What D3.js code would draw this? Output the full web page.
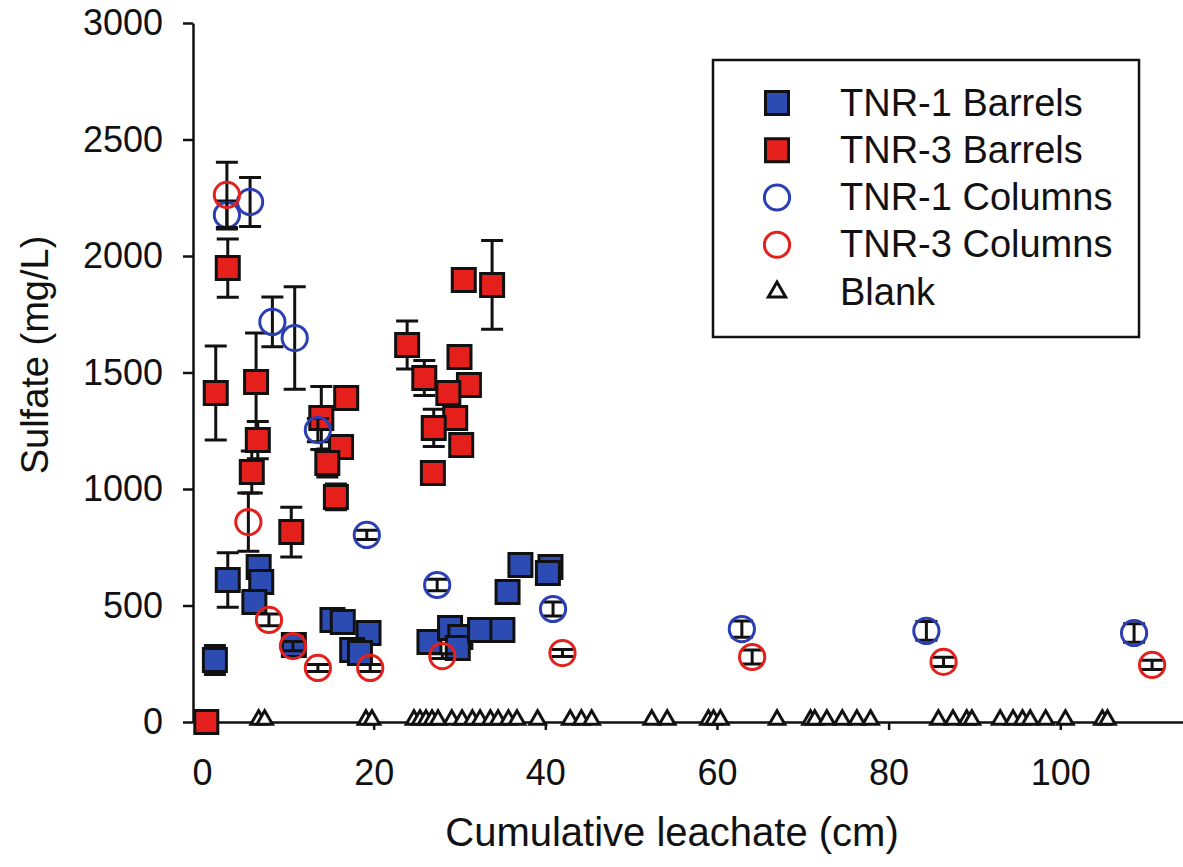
<!DOCTYPE html>
<html>
<head>
<meta charset="utf-8">
<script src="https://cdn.jsdelivr.net/npm/d3@7/dist/d3.min.js"></script>
<style>
  html, body { margin: 0; padding: 0; background: #fff; }
  svg { display: block; }
  text { font-family: "Liberation Sans", Arial, sans-serif; fill: #111; }
</style>
</head>
<body>
<svg id="chart" width="1183" height="867"></svg>
<script>
// ---------- DATA ----------
const seriesNames = ["TNR-1 Barrels", "TNR-3 Barrels", "TNR-1 Columns", "TNR-3 Columns", "Blank"];

const tnr1BarrelsX   = [1.5, 3.0, 6.6, 6.9, 6.1, 10.7, 15.2, 16.4, 19.4, 17.5, 18.4, 26.5, 28.9, 30.1, 29.8, 32.4, 35.0, 35.6, 37.1, 40.6, 40.3];
const tnr1BarrelsY   = [266, 609, 665, 601, 515, 330, 438, 429, 382, 309, 296, 343, 403, 365, 318, 395, 395, 558, 674, 665, 639];
const tnr1BarrelsErr = [62, 117, 0, 0, 0, 30, 0, 0, 0, 0, 0, 0, 0, 0, 0, 0, 0, 0, 0, 0, 0];

const tnr3BarrelsX   = [0.5, 1.6, 3.0, 6.3, 6.5, 5.8, 10.4, 13.9, 16.8, 16.2, 14.6, 15.6, 23.9, 25.9, 30.0, 31.1, 28.7, 29.5, 27.0, 30.2, 26.9, 30.5, 33.8];
const tnr3BarrelsY   = [0, 1412, 1948, 1459, 1210, 1073, 815, 1305, 1391, 1180, 1112, 966, 1618, 1476, 1567, 1446, 1412, 1305, 1262, 1189, 1069, 1897, 1876];
const tnr3BarrelsErr = [0, 202, 125, 210, 80, 90, 107, 135, 0, 0, 60, 55, 103, 75, 0, 0, 0, 0, 80, 0, 0, 40, 190];

const tnr1ColumnsX   = [2.9, 5.6, 8.2, 10.8, 13.5, 19.2, 27.4, 40.9, 62.9, 84.4, 108.6];
const tnr1ColumnsY   = [2176, 2232, 1717, 1648, 1253, 803, 588, 485, 399, 391, 382];
const tnr1ColumnsErr = [60, 105, 107, 220, 50, 20, 25, 30, 35, 40, 40];

const tnr3ColumnsX   = [2.9, 5.4, 7.8, 10.6, 13.5, 19.6, 28.0, 42.0, 64.1, 86.4, 110.7];
const tnr3ColumnsY   = [2262, 858, 438, 326, 232, 232, 283, 296, 279, 258, 245];
const tnr3ColumnsErr = [140, 125, 25, 20, 15, 15, 10, 15, 30, 20, 20];

const blankX = [6.6, 7.3, 19.1, 19.8, 24.7, 25.4, 26.1, 26.8, 27.5, 29.1, 30.3, 31.5, 32.4, 33.6, 34.5, 35.7, 36.7, 39.1,
                42.9, 44.2, 45.4, 52.4, 54.2, 59.0, 59.6, 60.4, 67.0, 70.9, 71.4, 72.8, 74.6, 76.3, 77.9,
                85.8, 87.5, 89.1, 89.7, 93.0, 94.5, 95.6, 96.5, 98.3, 100.6, 104.9, 105.5];
const blankY = [10, 10, 10, 10, 10, 10, 10, 10, 10, 10, 10, 10, 10, 10, 10, 10, 10, 10,
                10, 10, 10, 10, 10, 10, 10, 10, 10, 10, 10, 10, 10, 10, 10,
                10, 10, 10, 10, 10, 10, 10, 10, 10, 10, 10, 10];

const xTicks = [0, 20, 40, 60, 80, 100];
const yTicks = [0, 500, 1000, 1500, 2000, 2500, 3000];

// ---------- SETUP ----------
const svg = d3.select("#chart");
svg.append("rect").attr("width", 1183).attr("height", 867).attr("fill", "#fff");

const x = d3.scaleLinear().domain([-1.05, 114.3]).range([193, 1183]);
const y = d3.scaleLinear().domain([0, 3000]).range([722, 23]);

const zip = (xs, ys, es) => xs.map((v, i) => ({ x: v, y: ys[i], e: es ? es[i] : 0 }));

const styles = [
  { data: zip(tnr1BarrelsX, tnr1BarrelsY, tnr1BarrelsErr), type: d3.symbolSquare, size: 529, fill: "#2d4cb3", stroke: "#111", sw: 3 },
  { data: zip(tnr3BarrelsX, tnr3BarrelsY, tnr3BarrelsErr), type: d3.symbolSquare, size: 529, fill: "#e5201c", stroke: "#111", sw: 3 },
  { data: zip(tnr1ColumnsX, tnr1ColumnsY, tnr1ColumnsErr), type: d3.symbolCircle, size: 500, fill: "none", stroke: "#2b3fb3", sw: 3 },
  { data: zip(tnr3ColumnsX, tnr3ColumnsY, tnr3ColumnsErr), type: d3.symbolCircle, size: 500, fill: "none", stroke: "#e3201b", sw: 3 },
  { data: zip(blankX, blankY, null), type: d3.symbolTriangle, size: 105, fill: "#fff", stroke: "#111", sw: 3 }
];

// ---------- AXES ----------
const xAxis = d3.axisBottom(x).tickValues(xTicks).tickSize(8).tickSizeOuter(0).tickPadding(29).tickFormat(d3.format("d"));
const yAxis = d3.axisLeft(y).tickValues(yTicks).tickSize(10).tickSizeOuter(0).tickPadding(20).tickFormat(d3.format("d"));

const gx = svg.append("g").attr("transform", "translate(0,722)").call(xAxis);
const gy = svg.append("g").attr("transform", "translate(193,0)").call(yAxis);
[gx, gy].forEach(g => {
  g.selectAll("path.domain").attr("stroke", "#111").attr("stroke-width", 2.5);
  g.selectAll(".tick line").attr("stroke", "#111").attr("stroke-width", 2.5);
  g.selectAll(".tick text").attr("fill", "#111").style("font-size", "36px").style("font-family", "'Liberation Sans', Arial, sans-serif");
});

// axis titles
svg.append("text").attr("x", 672).attr("y", 846).attr("text-anchor", "middle")
  .style("font-size", "40px").text("Cumulative leachate (cm)");
svg.append("text").attr("transform", "translate(48,355) rotate(-90)").attr("text-anchor", "middle")
  .style("font-size", "38px").text("Sulfate (mg/L)");

// ---------- SERIES ----------
const capW = 11;
styles.forEach(s => {
  const g = svg.append("g");
  const eb = s.data.filter(d => d.e > 0);
  const ge = g.append("g").attr("stroke", "#111").attr("stroke-width", 3).attr("fill", "none");
  ge.selectAll("path").data(eb).join("path").attr("d", d => {
    const cx = x(d.x), y1 = y(d.y + d.e), y0 = y(d.y - d.e);
    return `M${cx},${y1}V${y0}M${cx - capW},${y1}H${cx + capW}M${cx - capW},${y0}H${cx + capW}`;
  });
  g.append("g").selectAll("path").data(s.data).join("path")
    .attr("transform", d => `translate(${x(d.x)},${y(d.y)})`)
    .attr("d", d3.symbol().type(s.type).size(s.size))
    .attr("fill", s.fill).attr("stroke", s.stroke).attr("stroke-width", s.sw);
});

// ---------- LEGEND ----------
const lg = svg.append("g");
lg.append("rect").attr("x", 713).attr("y", 60).attr("width", 426).attr("height", 277)
  .attr("fill", "#fff").attr("stroke", "#111").attr("stroke-width", 2.5);
const rowY = d3.scalePoint().domain(seriesNames).range([103, 292]);
seriesNames.forEach((name, i) => {
  const s = styles[i];
  lg.append("path").attr("transform", `translate(777,${rowY(name)})`)
    .attr("d", d3.symbol().type(s.type).size(s.type === d3.symbolTriangle ? 130 : s.size))
    .attr("fill", s.fill).attr("stroke", s.stroke).attr("stroke-width", s.sw);
  lg.append("text").attr("x", 840).attr("y", rowY(name)).attr("dy", "0.33em")
    .style("font-size", "38px").text(name);
});
</script>
</body>
</html>
